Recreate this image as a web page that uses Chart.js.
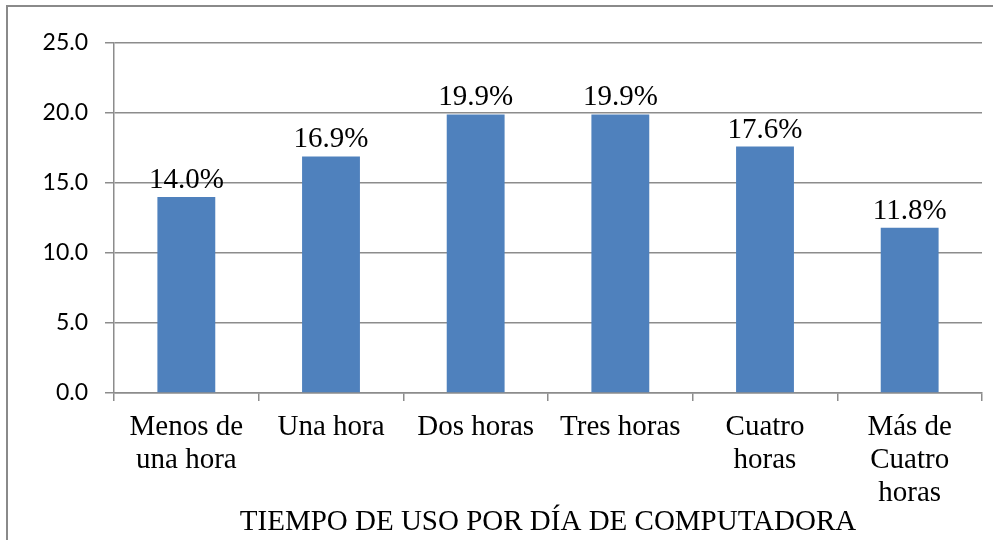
<!DOCTYPE html>
<html>
<head>
<meta charset="utf-8">
<script src="https://cdn.jsdelivr.net/npm/chart.js@4"></script>
<style>
  html, body { margin: 0; padding: 0; background: #fff; }
</style>
</head>
<body>
<canvas id="usageChart" width="993" height="540"></canvas>
<script>
// Tiempo de uso por día de computadora (%)
const categories = [
  ['Menos de', 'una hora'],
  'Una hora',
  'Dos horas',
  'Tres horas',
  ['Cuatro', 'horas'],
  ['Más de', 'Cuatro', 'horas']
];
const percentValues = [14.0, 16.9, 19.9, 19.9, 17.6, 11.8];
const yTicks = [0, 5, 10, 15, 20, 25];
const axisTitle = 'TIEMPO DE USO POR DÍA DE COMPUTADORA';

const serif = '"Liberation Serif", "Times New Roman", serif';
const lineGray = '#8c8c8c';

// frame around the chart (only top and left edges are visible in the picture)
const framePlugin = {
  id: 'frame',
  beforeDraw(chart) {
    const ctx = chart.ctx;
    ctx.save();
    ctx.strokeStyle = '#8a8a8a';
    ctx.lineWidth = 2;
    ctx.beginPath();
    ctx.moveTo(7, chart.height);
    ctx.lineTo(7, 6);
    ctx.lineTo(chart.width, 6);
    ctx.stroke();
    ctx.restore();
  }
};

// value labels above each bar
const barLabelPlugin = {
  id: 'barLabels',
  afterDatasetsDraw(chart) {
    const ctx = chart.ctx;
    const meta = chart.getDatasetMeta(0);
    ctx.save();
    ctx.font = '29px ' + serif;
    ctx.fillStyle = '#000';
    ctx.textAlign = 'center';
    ctx.textBaseline = 'alphabetic';
    meta.data.forEach((bar, i) => {
      ctx.fillText(percentValues[i].toFixed(1) + '%', bar.x, bar.y - 9);
    });
    ctx.restore();
  }
};

new Chart(document.getElementById('usageChart'), {
  type: 'bar',
  data: {
    labels: categories,
    datasets: [{
      data: percentValues,
      backgroundColor: '#4f81bd',
      borderWidth: 0,
      categoryPercentage: 1,
      barPercentage: 0.4
    }]
  },
  options: {
    responsive: false,
    animation: false,
    layout: { padding: { left: 0, right: 11, top: 43, bottom: 0 } },
    plugins: {
      legend: { display: false },
      tooltip: { enabled: false }
    },
    scales: {
      x: {
        grid: {
          drawOnChartArea: false,
          drawTicks: true,
          tickLength: 8,
          color: lineGray,
          lineWidth: 1.5
        },
        border: { display: true, color: lineGray, width: 1.5 },
        ticks: {
          color: '#000',
          padding: 9.5,
          maxRotation: 0,
          autoSkip: false,
          font: { family: serif, size: 29, lineHeight: 1.14 }
        },
        title: {
          display: true,
          text: axisTitle,
          color: '#000',
          padding: { top: 0, bottom: 1.5 },
          font: { family: serif, size: 29, lineHeight: 1.14 }
        },
        afterFit(scale) { scale.height = 147; }
      },
      y: {
        min: 0,
        max: 25,
        afterBuildTicks(scale) {
          scale.ticks = yTicks.map(v => ({ value: v }));
        },
        grid: {
          color: lineGray,
          lineWidth: 1.5,
          drawTicks: true,
          tickLength: 9
        },
        border: { display: true, color: lineGray, width: 1.5 },
        ticks: {
          color: '#000',
          padding: 17,
          font: { family: 'Lato, "Liberation Sans", sans-serif', size: 23 },
          callback: v => v.toFixed(1)
        },
        afterFit(scale) { scale.width = 114; }
      }
    }
  },
  plugins: [framePlugin, barLabelPlugin]
});
</script>
</body>
</html>
